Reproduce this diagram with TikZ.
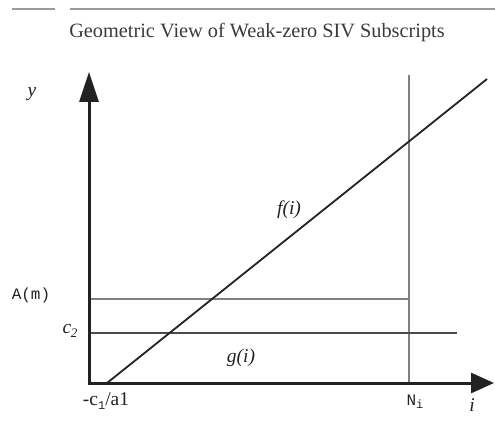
\documentclass[tikz,border=0pt]{standalone}
\usepackage{fontspec}
\setmainfont{Liberation Serif}
\setmonofont{Liberation Mono}
\usetikzlibrary{arrows.meta}
\definecolor{ink}{HTML}{222222}
\definecolor{titlegray}{HTML}{3A3A3A}
\definecolor{rulegray}{HTML}{9A9A9A}
\definecolor{thingray}{HTML}{808080}
\definecolor{midgray}{HTML}{4A4A4A}
\tikzset{
  axis/.style={draw=ink, line width=3pt},
  fline/.style={draw=ink, line width=1.8pt},
  thinline/.style={draw=thingray, line width=1.1pt},
  cline/.style={draw=midgray, line width=1.8pt},
  lbl/.style={inner sep=0pt, text=ink, font=\fontsize{19.5}{21}\selectfont},
  ttlbl/.style={inner sep=0pt, text=ink, font=\fontsize{16}{18}\selectfont\ttfamily},
}
\begin{document}
\begin{tikzpicture}[x=1pt,y=-1pt]
\useasboundingbox (0,0) rectangle (495,422);
% top rules
\draw[rulegray, line width=1.5pt] (12,9) -- (55,9);
\draw[rulegray, line width=1.5pt] (70,9) -- (495,9);
\node[inner sep=0pt, text=titlegray, font=\fontsize{20.3}{23}\selectfont] (title) at (257,33) {Geometric View of Weak-zero SIV Subscripts};
% coordinates
\coordinate (O) at (89,383);
\coordinate (ytip) at (89,72);
\coordinate (xtip) at (494,383);
\coordinate (ntop) at (409,75);
\coordinate (nbot) at (409,383);
\coordinate (fstart) at (107,383);
\coordinate (fend) at (487,79);
\coordinate (aleft) at (89,299);
\coordinate (aright) at (409,299);
\coordinate (cleft) at (89,333);
\coordinate (cright) at (457,333);
% lines
\draw[thinline] (ntop) -- (nbot);
\draw[thinline] (aleft) -- (aright);
\draw[cline] (cleft) -- (cright);
\draw[fline] (fstart) -- (fend);
% axes
\draw[axis, -{Triangle[length=30pt,width=19pt]}] (O) -- (ytip);
\draw[axis, -{Triangle[length=23pt,width=20pt]}] ([xshift=-1.5pt]O) -- (xtip);
% labels
\node[lbl] (ylab) at (32,94) {\itshape y};
\node[ttlbl] (amlab) at (31,295) {A(m)};
\node[lbl] (c2lab) at (70,331) {\itshape c\kern-0.5pt\raisebox{-3.5pt}{\fontsize{13}{14}\selectfont 2}};
\node[lbl] (flab) at (289,210) {\itshape f(i)};
\node[lbl] (glab) at (241,358) {\itshape g(i)};
\node[lbl] (c1lab) at (106,401) {-c\raisebox{-3.5pt}{\fontsize{12}{13}\selectfont\ttfamily 1}/a1};
\node[ttlbl] (nilab) at (415,402) {N\raisebox{-3pt}{\fontsize{12}{13}\selectfont i}};
\node[lbl] (ilab) at (472,405) {\itshape i};
\end{tikzpicture}
\end{document}
